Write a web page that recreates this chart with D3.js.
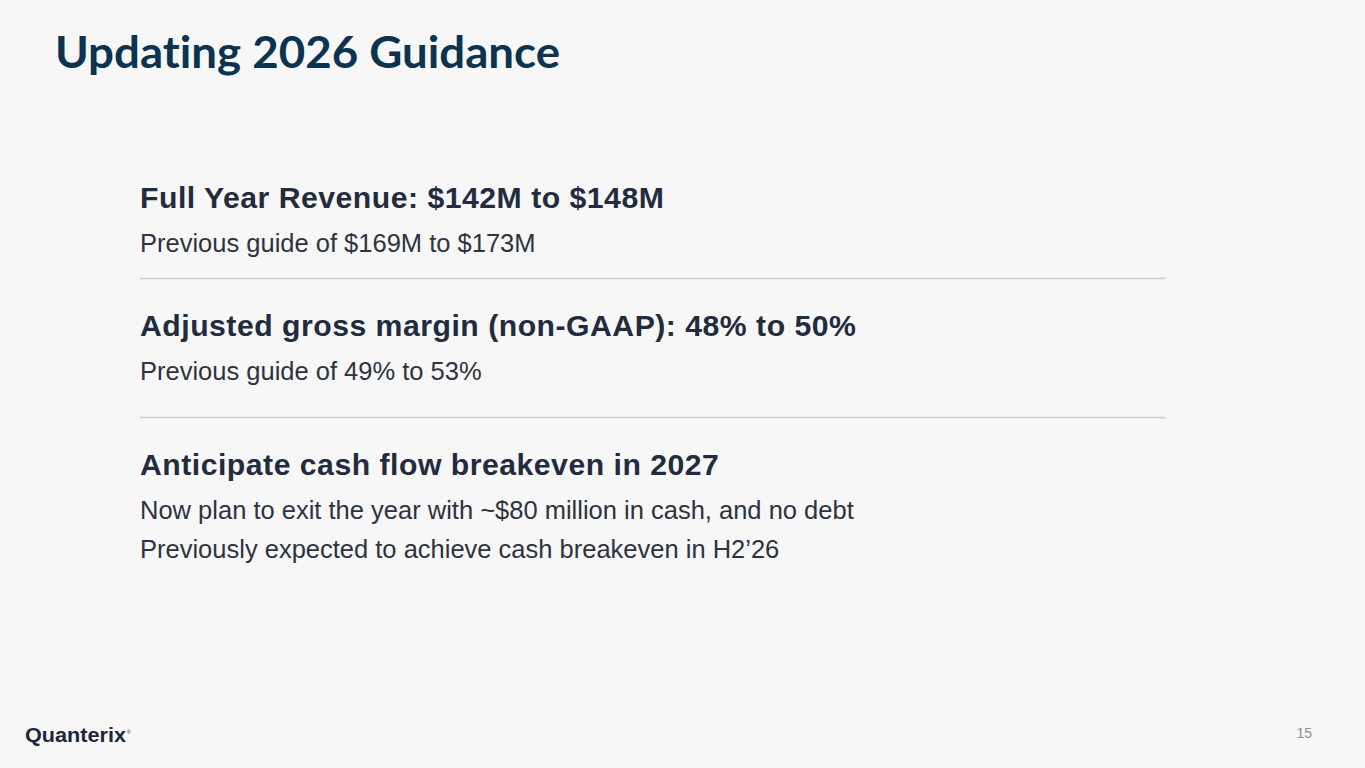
<!DOCTYPE html>
<html>
<head>
<meta charset="utf-8">
<script src="https://cdn.jsdelivr.net/npm/d3@7"></script>
<style>
  html, body { margin: 0; padding: 0; background: #f7f7f7; overflow: hidden; }
  svg { display: block; }
  text { font-variant-ligatures: none; font-feature-settings: "liga" 0; }
</style>
</head>
<body>
<svg id="slide" width="1365" height="768"></svg>
<script>
const title = "Updating 2026 Guidance";
const headings = [
  "Full Year Revenue: $142M to $148M",
  "Adjusted gross margin (non-GAAP): 48% to 50%",
  "Anticipate cash flow breakeven in 2027"
];
const details = [
  ["Previous guide of $169M to $173M"],
  ["Previous guide of 49% to 53%"],
  ["Now plan to exit the year with ~$80 million in cash, and no debt",
   "Previously expected to achieve cash breakeven in H2\u201926"]
];
const logoText = "Quanterix";
const pageNumber = "15";

const svg = d3.select("#slide");
svg.append("rect").attr("width", 1365).attr("height", 768).attr("fill", "#f7f7f7");

// Title
svg.append("text")
  .attr("x", 55).attr("y", 68)
  .attr("font-family", "Lato, 'Open Sans', sans-serif")
  .attr("font-weight", 700)
  .attr("font-size", 44)
  .attr("fill", "#0c3350")
  .attr("textLength", 505)
  .attr("lengthAdjust", "spacingAndGlyphs")
  .text(title);

// Section layout: heading baselines
const headingY = [208, 336, 475];
const sections = svg.selectAll("g.section")
  .data(headings.map((h, i) => ({ h, d: details[i], y: headingY[i] })))
  .join("g").attr("class", "section");

sections.append("text")
  .attr("x", 140)
  .attr("y", d => d.y)
  .attr("font-family", "'Liberation Sans', Arial, sans-serif")
  .attr("font-weight", 700)
  .attr("font-size", 30.2)
  .attr("letter-spacing", 0.5)
  .attr("fill", "#232c3e")
  .text(d => d.h);

sections.each(function(d) {
  d3.select(this).selectAll("text.detail")
    .data(d.d)
    .join("text").attr("class", "detail")
    .attr("x", 140)
    .attr("y", (t, j) => d.y + 43.5 + j * 39)
    .attr("font-family", "'Liberation Sans', Arial, sans-serif")
    .attr("font-size", 25.5)
    .attr("fill", "#2d3340")
    .text(t => t);
});

// Separators
const sepY = [278.5, 417.5];
svg.selectAll("line.sep")
  .data(sepY)
  .join("line").attr("class", "sep")
  .attr("x1", 140).attr("x2", 1166)
  .attr("y1", d => d).attr("y2", d => d)
  .attr("stroke", "#cfcfcf").attr("stroke-width", 1.5);

// Logo
svg.append("text")
  .attr("x", 25).attr("y", 742)
  .attr("font-family", "'Liberation Sans', Arial, sans-serif")
  .attr("font-weight", 700)
  .attr("font-size", 21)
  .attr("fill", "#1e2638")
  .attr("textLength", 101)
  .attr("lengthAdjust", "spacingAndGlyphs")
  .text(logoText);
svg.append("text")
  .attr("x", 127).attr("y", 734)
  .attr("font-family", "'Liberation Sans', Arial, sans-serif")
  .attr("font-size", 5)
  .attr("fill", "#1e2638")
  .text("\u00ae");

// Page number
svg.append("text")
  .attr("x", 1312).attr("y", 738)
  .attr("text-anchor", "end")
  .attr("font-family", "'Liberation Sans', Arial, sans-serif")
  .attr("font-size", 14)
  .attr("fill", "#8f8f8f")
  .text(pageNumber);
</script>
</body>
</html>
